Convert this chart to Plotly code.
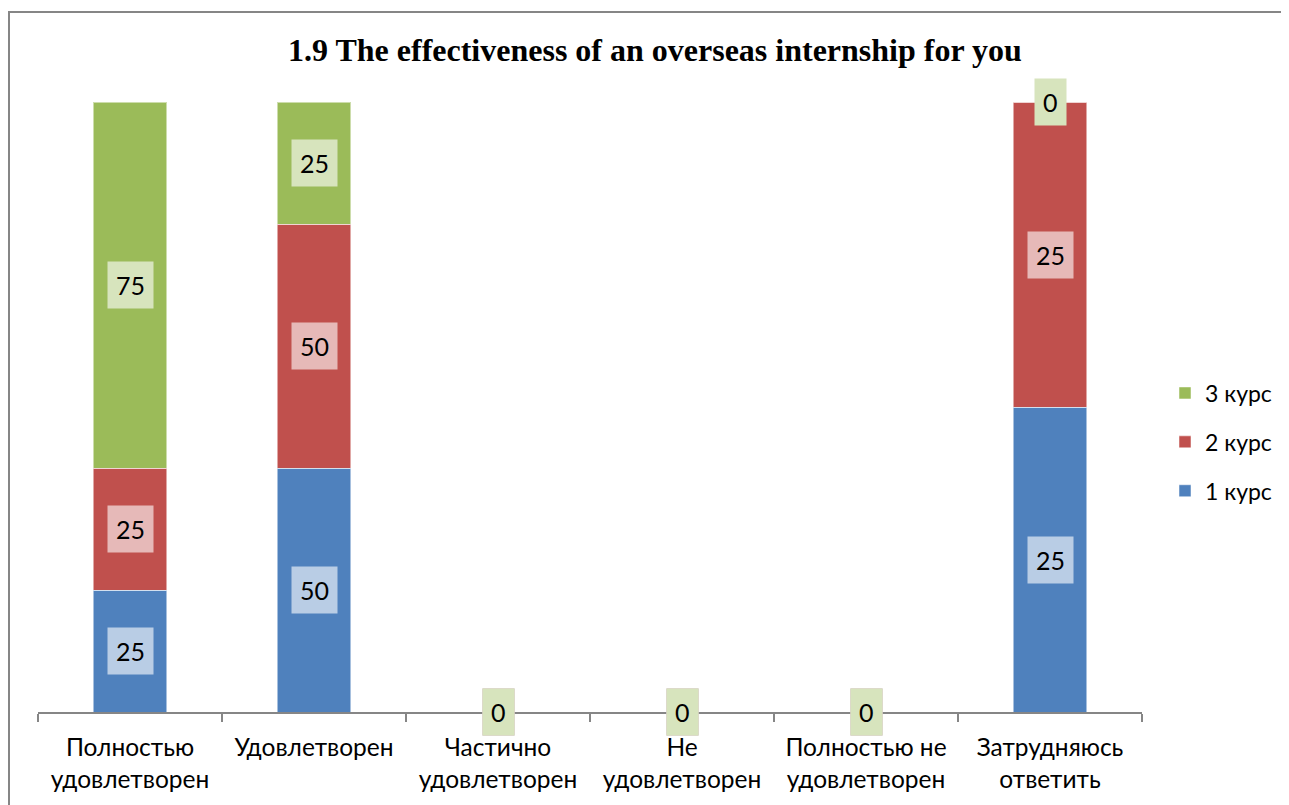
import plotly.graph_objects as go

categories = ["Полностью<br>удовлетворен", "Удовлетворен", "Частично<br>удовлетворен",
              "Не<br>удовлетворен", "Полностью не<br>удовлетворен", "Затрудняюсь<br>ответить"]
series_names = ["1 курс", "2 курс", "3 курс"]
kurs1 = [25, 50, 0, 0, 0, 25]
kurs2 = [25, 50, 0, 0, 0, 25]
kurs3 = [75, 25, 0, 0, 0, 0]
title_text = "1.9 The effectiveness of an overseas internship for you"

series_values = [kurs1, kurs2, kurs3]
colors = ["#4f81bd", "#c0504d", "#9bbb59"]
label_bg = ["#b9cde5", "#e6b9b8", "#d7e4bd"]

# page has an 8px body margin; work in figure coordinates
OFF = 8
W, H = 1289 - OFF, 805 - OFF
L, R, T, B = 38 - OFF, 1142 - OFF, 102 - OFF, 712 - OFF


def px(xp):
    return (xp - OFF - L) / (R - L)


def py(yp):
    return (B - (yp - OFF)) / (B - T)


fig = go.Figure()
n = len(series_names)
for i, (name, vals) in enumerate(zip(series_names, series_values)):
    fig.add_trace(go.Bar(
        x=categories, y=vals, name=name,
        marker=dict(color=colors[i], line=dict(color="rgba(255,255,255,0.5)", width=1)),
        legendgroup=name, legendrank=n - i, hoverinfo="skip"))

# data labels (centered in each normalized segment)
totals = [sum(s[j] for s in series_values) for j in range(len(categories))]
cum = [0.0] * len(categories)
annotations = []
for i, vals in enumerate(series_values):
    for j, v in enumerate(vals):
        pct = (v / totals[j] * 100) if totals[j] else 0
        ymid = cum[j] + pct / 2
        cum[j] += pct
        annotations.append(dict(
            x=categories[j], y=ymid, xref="x", yref="y", text=str(v),
            showarrow=False, bgcolor=label_bg[i], borderpad=8,
            font=dict(family="Lato", size=25, color="#000000")))

annotations.append(dict(
    x=px(655), y=py(50), xref="paper", yref="paper",
    text="<b>" + title_text + "</b>", showarrow=False, xanchor="center", yanchor="middle",
    font=dict(family="Liberation Serif", size=32, color="#000000")))

fig.update_layout(
    width=W, height=H,
    margin=dict(l=L, r=W - R, t=T, b=H - B, pad=0, autoexpand=False),
    barmode="stack", barnorm="percent", bargap=0.598,
    paper_bgcolor="white", plot_bgcolor="white",
    annotations=annotations,
    legend=dict(traceorder="grouped", tracegroupgap=16,
                x=px(1165), xanchor="left",
                y=py(442), yanchor="middle",
                font=dict(family="Lato", size=23, color="#000000")),
    xaxis=dict(showline=True, linecolor="#868686", linewidth=1.5,
               ticks="outside", tickson="boundaries", ticklen=8, tickcolor="#868686",
               tickwidth=1.5, ticklabelstandoff=13,
               tickfont=dict(family="Lato", size=24.5, color="#000000"),
               showgrid=False, fixedrange=True),
    yaxis=dict(range=[0, 100], visible=False, showgrid=False, fixedrange=True),
    shapes=[dict(type="rect", xref="paper", yref="paper",
                 x0=px(9), x1=px(1400),
                 y0=py(900), y1=py(12),
                 line=dict(color="#868686", width=2), layer="below")],
)

fig.write_html("out.html")
